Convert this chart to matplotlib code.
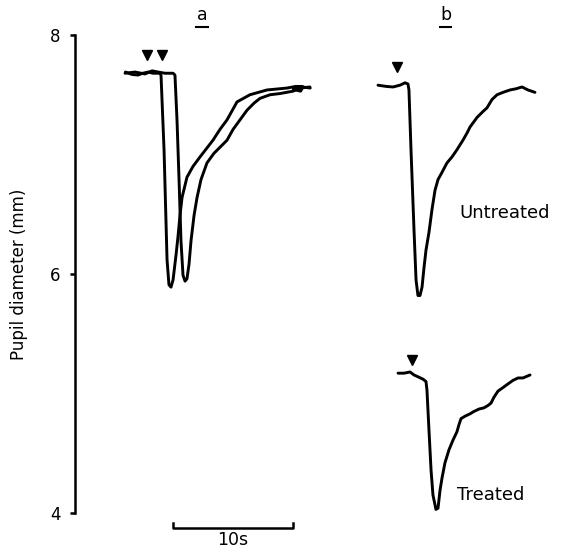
import numpy as np
import matplotlib
matplotlib.use("Agg")
import matplotlib.pyplot as plt

# Pupil traces, time in seconds from the axis, diameter in mm
# panel a, two superimposed responses
t_a1 = [4.2, 4.75, 5.25, 5.65, 6.1, 6.5, 7.1, 7.17, 7.42, 7.67, 7.83, 8.0, 8.17, 8.42, 8.58,
        8.75, 8.92, 9.33, 9.83, 10.42, 11.5, 12.08, 12.67, 13.5, 14.58, 16.0, 17.67, 18.4,
        19.0, 18.8, 18.2, 18.6, 19.6]
d_a1 = [7.69, 7.67, 7.665, 7.68, 7.69, 7.68, 7.68, 7.66, 7.04, 6.12, 5.91, 5.89, 5.95, 6.16, 6.31,
        6.49, 6.64, 6.81, 6.90, 6.98, 7.12, 7.21, 7.29, 7.44, 7.50, 7.54, 7.556, 7.57,
        7.565, 7.53, 7.545, 7.57, 7.556]

t_a2 = [4.17, 5.0, 5.83, 6.42, 6.92, 7.5, 8.17, 8.33, 8.5, 8.67, 8.83, 9.0, 9.17, 9.33, 9.5,
        9.67, 9.92, 10.17, 10.5, 11.0, 11.58, 12.08, 12.67, 13.17, 13.75, 14.33, 14.92, 15.42,
        16.25, 17.08, 18.17, 18.75, 19.58]
d_a2 = [7.68, 7.69, 7.674, 7.70, 7.69, 7.68, 7.68, 7.665, 7.29, 6.79, 6.28, 5.99, 5.94, 5.96, 6.08,
        6.28, 6.49, 6.64, 6.79, 6.93, 7.01, 7.06, 7.12, 7.21, 7.29, 7.37, 7.43, 7.47,
        7.50, 7.51, 7.53, 7.556, 7.565]

# panel b, untreated
t_u = [25.25, 25.92, 26.5, 27.08, 27.5, 27.75, 27.83, 28.0, 28.25, 28.42, 28.58, 28.75, 28.92,
       29.08, 29.25, 29.5, 29.75, 30.0, 30.25, 30.58, 31.0, 31.42, 31.83, 32.33, 32.67, 32.92,
       33.5, 34.0, 34.33, 34.75, 35.17, 35.67, 36.25, 36.75, 37.25, 37.75, 38.33]
d_u = [7.58, 7.57, 7.565, 7.58, 7.60, 7.59, 7.54, 7.04, 6.37, 5.95, 5.82, 5.82, 5.89,
       6.05, 6.20, 6.35, 6.54, 6.70, 6.79, 6.85, 6.93, 6.98, 7.04, 7.12, 7.18, 7.23,
       7.31, 7.36, 7.39, 7.46, 7.50, 7.52, 7.54, 7.55, 7.565, 7.54, 7.52]

# panel b, treated
t_t = [26.92, 27.42, 27.92, 28.25, 28.58, 29.0, 29.25, 29.33, 29.5, 29.67, 29.83, 30.08, 30.25,
       30.42, 30.58, 30.83, 31.17, 31.5, 31.83, 32.0, 32.17, 32.5, 32.92, 33.25, 33.67, 34.08,
       34.42, 34.67, 34.92, 35.25, 35.67, 36.08, 36.5, 36.92, 37.33, 37.92]
d_t = [5.17, 5.17, 5.18, 5.155, 5.14, 5.12, 5.10, 5.03, 4.69, 4.36, 4.15, 4.03, 4.04,
       4.19, 4.29, 4.42, 4.53, 4.61, 4.68, 4.74, 4.79, 4.81, 4.83, 4.85, 4.87, 4.88,
       4.90, 4.92, 4.97, 5.02, 5.05, 5.08, 5.11, 5.13, 5.13, 5.155]

# stimulus markers
stim_t = [6.0, 7.25, 26.83, 28.08]
stim_d = [7.83, 7.83, 7.73, 5.28]

yticks = [4, 6, 8]

W, H = 562, 552
fig = plt.figure(figsize=(W / 100, H / 100), dpi=100)
ax = fig.add_axes([75 / W, 39 / H, 487 / W, 478 / H])
ax.set_xlim(0, 487 / 12)
ax.set_ylim(4, 8)

lw = 2.1
for t, d in [(t_a1, d_a1), (t_a2, d_a2), (t_u, d_u), (t_t, d_t)]:
    ax.plot(t, d, color="black", lw=lw, solid_joinstyle="round", solid_capstyle="round", clip_on=False)

ax.plot(stim_t, stim_d, linestyle="none", marker="v", color="black", ms=7.5, clip_on=False)

# axis styling
for s in ["top", "right", "bottom"]:
    ax.spines[s].set_visible(False)
ax.spines["left"].set_linewidth(1.8)
ax.set_xticks([])
ax.set_yticks(yticks)
ax.tick_params(axis="y", length=3.5, width=1.8, pad=7, labelsize=12)
ax.set_ylabel("Pupil diameter (mm)", fontsize=12)
ax.yaxis.set_label_coords(-0.097, 0.5)

# panel labels, underlined
for lab, x0, x1 in [("a", 10.08, 11.08), ("b", 30.42, 31.33)]:
    ax.text((x0 + x1) / 2, 8.17, lab, ha="center", va="center", fontsize=12.5)
    ax.plot([x0, x1], [8.07, 8.07], color="black", lw=1.5, clip_on=False)

ax.text(35.83, 6.51, "Untreated", ha="center", va="center", fontsize=13)
ax.text(34.67, 4.15, "Treated", ha="center", va="center", fontsize=13)

# 10 s scale bar
ax.plot([8.17, 8.17, 18.17, 18.17], [3.916, 3.874, 3.874, 3.916], color="black", lw=1.8, clip_on=False)
ax.text(13.17, 3.77, "10s", ha="center", va="center", fontsize=12.5)

fig.savefig("out.png", dpi=100)
